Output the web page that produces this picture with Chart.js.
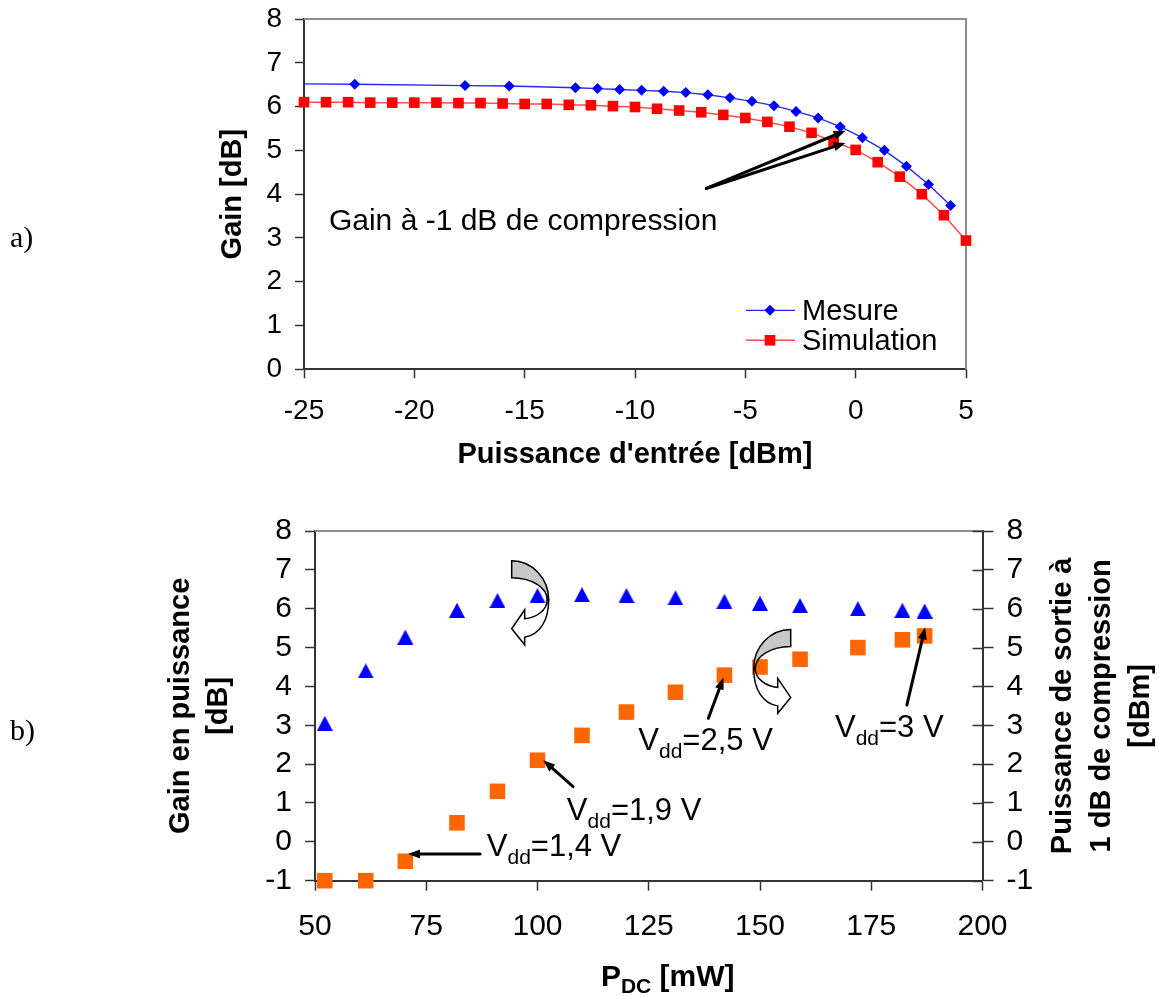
<!DOCTYPE html>
<html>
<head>
<meta charset="utf-8">
<script src="https://cdn.jsdelivr.net/npm/chart.js@4.4.1/dist/chart.umd.min.js"></script>
<style>
  html, body { margin: 0; padding: 0; background: #fff; }
  #wrap { position: relative; width: 1159px; height: 996px; overflow: hidden; }
  #gainChart { position: absolute; left: 0; top: 0; }
  #pdcChart { position: absolute; left: 0; top: 480px; }
</style>
</head>
<body>
<div id="wrap">
  <canvas id="gainChart" width="1159" height="480"></canvas>
  <canvas id="pdcChart" width="1159" height="516"></canvas>
</div>
<script>
const FONT = "'Liberation Sans', Arial, sans-serif";
const SERIF = "'Liberation Serif', 'Times New Roman', serif";
const AXIS = "#333333";
const FRAME = "#8c8c8c";

// a) gain vs input power
const mesureX = [-25, -22.7, -17.7, -15.7, -12.7, -11.7, -10.7, -9.7, -8.7, -7.7, -6.7,
                 -5.7, -4.7, -3.7, -2.7, -1.7, -0.7, 0.3, 1.3, 2.3, 3.3, 4.3];
const mesureGain = [6.52, 6.51, 6.48, 6.47, 6.43, 6.41, 6.39, 6.37, 6.35, 6.32, 6.27,
                    6.20, 6.12, 6.02, 5.89, 5.74, 5.54, 5.29, 5.00, 4.64, 4.22, 3.74];
const simX = [-25, -24, -23, -22, -21, -20, -19, -18, -17, -16, -15, -14, -13, -12, -11, -10,
              -9, -8, -7, -6, -5, -4, -3, -2, -1, 0, 1, 2, 3, 4, 5];
const simGain = [6.10, 6.10, 6.10, 6.09, 6.09, 6.09, 6.09, 6.08, 6.08, 6.07, 6.06, 6.06, 6.04, 6.03, 6.01, 5.99,
                 5.95, 5.91, 5.87, 5.81, 5.74, 5.65, 5.54, 5.40, 5.20, 5.01, 4.73, 4.40, 4.00, 3.52, 2.94];
const inputTicks = [-25, -20, -15, -10, -5, 0, 5];
const gainTicks = [0, 1, 2, 3, 4, 5, 6, 7, 8];

// b) gain and output power at 1 dB compression vs P_DC
const pdc = [52.2, 61.4, 70.3, 81.9, 91.0, 100.0, 110.0, 120.0, 131.0, 142.0, 150.0, 159.0, 172.0, 182.0, 187.0];
const gainPuissance = [3.05, 4.40, 5.27, 5.96, 6.21, 6.34, 6.36, 6.34, 6.28, 6.19, 6.14, 6.08, 6.00, 5.96, 5.94];
const p1dB = [-1.0, -1.0, -0.5, 0.49, 1.30, 2.10, 2.74, 3.34, 3.85, 4.29, 4.50, 4.70, 5.00, 5.20, 5.30];
const pdcTicks = [50, 75, 100, 125, 150, 175, 200];
const dbTicks = [-1, 0, 1, 2, 3, 4, 5, 6, 7, 8];

// annotations (data coordinates)
const vddLabels = ["1,4", "1,9", "2,5", "3"];
const vddTextAt = [[88.6, -0.37], [106.6, 0.56], [122.65, 2.375], [166.85, 2.69]];
const vddArrowFrom = [[87.1, -0.31], [108.0, 1.42], [138.4, 3.18], [183.0, 3.52]];
const vddArrowTo = [[70.9, -0.31], [101.3, 2.10], [141.8, 4.23], [187.1, 5.52]];
const turnArrows = [[94.2, 7.234, 1], [156.9, 5.468, -1]];
const compressionText = [-23.87, 3.18];
const compressionFrom = [-6.77, 4.13];
const compressionTo = [[-0.46, 5.45], [-0.46, 5.17]];

function useTicks(list) {
  return s => { s.ticks = list.map(v => ({ value: v })); };
}

// fixed box size, no label overflow padding so the plot area lands where we want
function fixBox(size) {
  return s => {
    if (s.isHorizontal()) s.height = size; else s.width = size;
    s.paddingTop = 0;
    s.paddingBottom = 0;
    s.paddingLeft = 0;
    s.paddingRight = 0;
  };
}

function axis(o) {
  return {
    type: "linear",
    position: o.position,
    min: o.min,
    max: o.max,
    afterBuildTicks: useTicks(o.ticks),
    afterFit: fixBox(o.size),
    grid: { drawOnChartArea: false, drawTicks: true, tickLength: o.tickLength, tickColor: AXIS, tickWidth: 1.5 },
    border: { display: true, color: AXIS, width: 2 },
    ticks: {
      color: "#000",
      font: { family: FONT, size: o.fontSize },
      padding: o.padding,
      autoSkip: false,
      maxRotation: 0,
      callback: v => String(v)
    }
  };
}

function arrow(ctx, x1, y1, x2, y2) {
  const a = Math.atan2(y2 - y1, x2 - x1);
  const len = 12, half = 4.5;
  const bx = x2 - len * Math.cos(a), by = y2 - len * Math.sin(a);
  ctx.strokeStyle = "#000";
  ctx.fillStyle = "#000";
  ctx.lineWidth = 3;
  ctx.lineCap = "round";
  ctx.beginPath();
  ctx.moveTo(x1, y1);
  ctx.lineTo(bx, by);
  ctx.stroke();
  ctx.beginPath();
  ctx.moveTo(x2, y2);
  ctx.lineTo(bx + half * Math.sin(a), by - half * Math.cos(a));
  ctx.lineTo(bx - half * Math.sin(a), by + half * Math.cos(a));
  ctx.closePath();
  ctx.fill();
}

function textUp(ctx, str, x, y, font) {
  ctx.save();
  ctx.translate(x, y);
  ctx.rotate(-Math.PI / 2);
  ctx.font = font;
  ctx.fillStyle = "#000";
  ctx.textAlign = "center";
  ctx.textBaseline = "alphabetic";
  ctx.fillText(str, 0, 0);
  ctx.restore();
}

function plainText(ctx, str, x, y, font, align) {
  ctx.font = font;
  ctx.fillStyle = "#000";
  ctx.textAlign = align || "left";
  ctx.textBaseline = "alphabetic";
  ctx.fillText(str, x, y);
}

// "V_dd=1,4 V" with subscript
function vddText(ctx, x, y, value) {
  ctx.fillStyle = "#000";
  ctx.textAlign = "left";
  ctx.textBaseline = "alphabetic";
  ctx.font = "31px " + FONT;
  ctx.fillText("V", x, y);
  let w = ctx.measureText("V").width;
  ctx.font = "21px " + FONT;
  ctx.fillText("dd", x + w, y + 8);
  w += ctx.measureText("dd").width;
  ctx.font = "31px " + FONT;
  ctx.fillText("=" + value + " V", x + w, y);
}

// office-like curved arrow, tail at (x0, y0), bulging to dir
function curvedArrow(ctx, x0, y0, dir) {
  const P = (u, v) => [x0 + dir * u, y0 + v];
  const m = (u, v) => ctx.moveTo(...P(u, v));
  const l = (u, v) => ctx.lineTo(...P(u, v));
  const c = (a, b, cc, d, e, f) => ctx.bezierCurveTo(...P(a, b), ...P(cc, d), ...P(e, f));
  ctx.lineWidth = 1.5;
  ctx.strokeStyle = "#000";
  ctx.lineJoin = "miter";
  // back (grey) band
  ctx.beginPath();
  m(0, 0);
  c(20.4, 0, 37, 17.5, 37, 39);
  l(35.5, 39);
  c(35.5, 26.9, 19.6, 17, 0, 17);
  ctx.closePath();
  ctx.fillStyle = "#c8c8c8";
  ctx.fill();
  ctx.stroke();
  // front (white) band with head
  ctx.beginPath();
  m(37, 39);
  c(37, 60, 28, 74, 13, 76.5);
  l(13, 84);
  l(0, 68);
  l(13, 49);
  l(13, 58);
  c(24, 57, 35.5, 50, 35.5, 39);
  ctx.closePath();
  ctx.fillStyle = "#fff";
  ctx.fill();
  ctx.stroke();
}

function triangleMarker(w, h, color) {
  const cv = document.createElement("canvas");
  cv.width = w;
  cv.height = h;
  const g = cv.getContext("2d");
  g.fillStyle = color;
  g.beginPath();
  g.moveTo(w / 2, 0);
  g.lineTo(w, h);
  g.lineTo(0, h);
  g.closePath();
  g.fill();
  return cv;
}

const gainDecor = {
  id: "gainDecor",
  beforeDatasetsDraw(chart) {
    const { ctx, chartArea: a } = chart;
    ctx.save();
    ctx.strokeStyle = FRAME;
    ctx.lineWidth = 2;
    ctx.beginPath();
    ctx.moveTo(a.left, a.top);
    ctx.lineTo(a.right, a.top);
    ctx.lineTo(a.right, a.bottom);
    ctx.stroke();
    ctx.restore();
  },
  afterDraw(chart) {
    const { ctx, chartArea: a, scales: { x, y } } = chart;
    ctx.save();
    // legend
    const rows = [a.bottom - 59, a.bottom - 29];
    chart.data.datasets.forEach((ds, i) => {
      const yy = rows[i];
      ctx.strokeStyle = ds.borderColor;
      ctx.lineWidth = ds.borderWidth;
      ctx.beginPath();
      ctx.moveTo(a.right - 220, yy);
      ctx.lineTo(a.right - 171, yy);
      ctx.stroke();
      ctx.fillStyle = ds.pointBackgroundColor;
      Chart.helpers.drawPoint(ctx, { pointStyle: ds.pointStyle, radius: i === 0 ? 5.5 : 7.5, rotation: 0, borderWidth: 0 }, a.right - 196, yy);
      plainText(ctx, ds.label, a.right - 164, yy + 10, "29px " + FONT);
    });
    // annotation
    plainText(ctx, "Gain à -1 dB de compression", x.getPixelForValue(compressionText[0]), y.getPixelForValue(compressionText[1]), "30px " + FONT);
    compressionTo.forEach(t => arrow(ctx, x.getPixelForValue(compressionFrom[0]), y.getPixelForValue(compressionFrom[1]),
      x.getPixelForValue(t[0]), y.getPixelForValue(t[1])));
    // axis titles
    textUp(ctx, "Gain [dB]", a.left - 63.3, (a.top + a.bottom) / 2, "bold 29px " + FONT);
    plainText(ctx, "Puissance d'entrée [dBm]", (a.left + a.right) / 2, a.bottom + 94, "bold 29px " + FONT, "center");
    plainText(ctx, "a)", 10, a.top + 228, "30px " + SERIF);
    ctx.restore();
  }
};

const pdcDecor = {
  id: "pdcDecor",
  beforeDatasetsDraw(chart) {
    const { ctx, chartArea: a, scales: { y1 } } = chart;
    ctx.save();
    ctx.strokeStyle = FRAME;
    ctx.lineWidth = 2;
    ctx.beginPath();
    ctx.moveTo(a.left, a.top);
    ctx.lineTo(a.right, a.top);
    ctx.stroke();
    // right axis ticks cross the axis line
    ctx.strokeStyle = AXIS;
    ctx.lineWidth = 1.5;
    ctx.beginPath();
    y1.ticks.forEach(t => {
      const py = Math.round(y1.getPixelForValue(t.value)) + 0.5;
      ctx.moveTo(a.right - 10, py);
      ctx.lineTo(a.right, py);
    });
    ctx.stroke();
    ctx.restore();
  },
  afterDraw(chart) {
    const { ctx, chartArea: a, scales: { x, y } } = chart;
    ctx.save();
    vddLabels.forEach((v, i) => {
      arrow(ctx, x.getPixelForValue(vddArrowFrom[i][0]), y.getPixelForValue(vddArrowFrom[i][1]),
        x.getPixelForValue(vddArrowTo[i][0]), y.getPixelForValue(vddArrowTo[i][1]));
      vddText(ctx, x.getPixelForValue(vddTextAt[i][0]), y.getPixelForValue(vddTextAt[i][1]), v);
    });
    turnArrows.forEach(t => curvedArrow(ctx, x.getPixelForValue(t[0]), y.getPixelForValue(t[1]), t[2]));
    // axis titles
    const cy = (a.top + a.bottom) / 2;
    const bold = "bold 29px " + FONT;
    textUp(ctx, "Gain en puissance", a.left - 126, cy, bold);
    textUp(ctx, "[dB]", a.left - 88, cy, bold);
    textUp(ctx, "Puissance de sortie à", a.right + 88.5, cy, bold);
    textUp(ctx, "1 dB de compression", a.right + 127.5, cy, bold);
    textUp(ctx, "[dBm]", a.right + 166.5, cy, bold);
    // P_DC [mW]
    ctx.font = "bold 30px " + FONT;
    const wP = ctx.measureText("P").width, wT = ctx.measureText(" [mW]").width;
    ctx.font = "bold 21px " + FONT;
    const wS = ctx.measureText("DC").width;
    const bx = (a.left + a.right) / 2 + 19 - (wP + wS + wT) / 2, by = a.bottom + 105.3;
    plainText(ctx, "P", bx, by, "bold 30px " + FONT);
    plainText(ctx, "DC", bx + wP, by + 7, "bold 21px " + FONT);
    plainText(ctx, " [mW]", bx + wP + wS, by, "bold 30px " + FONT);
    plainText(ctx, "b)", 10, a.top + 209, "30px " + SERIF);
    ctx.restore();
  }
};

new Chart(document.getElementById("gainChart"), {
  type: "line",
  data: {
    datasets: [
      {
        label: "Mesure",
        data: mesureX.map((v, i) => ({ x: v, y: mesureGain[i] })),
        borderColor: "rgba(0,0,255,0.85)",
        borderWidth: 1.3,
        pointStyle: "rectRot",
        pointRadius: c => (c.dataIndex === 0 ? 0 : 5.5),
        pointBackgroundColor: "#0000ff",
        pointBorderWidth: 0,
        tension: 0,
        clip: false
      },
      {
        label: "Simulation",
        data: simX.map((v, i) => ({ x: v, y: simGain[i] })),
        borderColor: "rgba(255,0,0,0.7)",
        borderWidth: 1.5,
        pointStyle: "rect",
        pointRadius: 7.5,
        pointBackgroundColor: "#ff0000",
        pointBorderWidth: 0,
        tension: 0,
        clip: false
      }
    ]
  },
  options: {
    responsive: false,
    animation: false,
    devicePixelRatio: 1,
    layout: { padding: { left: 200, right: 193, top: 19, bottom: 0 } },
    plugins: { legend: { display: false }, tooltip: { enabled: false } },
    scales: {
      x: axis({ position: "bottom", min: -25, max: 5, ticks: inputTicks, tickLength: 9, fontSize: 28, padding: 16, size: 110.7 }),
      y: axis({ position: "left", min: 0, max: 8, ticks: gainTicks, tickLength: 9, fontSize: 28, padding: 13, size: 104 })
    }
  },
  plugins: [gainDecor]
});

new Chart(document.getElementById("pdcChart"), {
  type: "scatter",
  data: {
    datasets: [
      {
        label: "Gain en puissance",
        data: pdc.map((v, i) => ({ x: v, y: gainPuissance[i] })),
        yAxisID: "y",
        pointStyle: triangleMarker(16, 15, "#0000ff"),
        pointRadius: 8,
        clip: false
      },
      {
        label: "Puissance de sortie à 1 dB de compression",
        data: pdc.map((v, i) => ({ x: v, y: p1dB[i] })),
        yAxisID: "y1",
        pointStyle: "rect",
        pointRadius: 11,
        pointBackgroundColor: "#ff6600",
        pointBorderWidth: 0,
        clip: false
      }
    ]
  },
  options: {
    responsive: false,
    animation: false,
    devicePixelRatio: 1,
    layout: { padding: { left: 158, right: 0, top: 51, bottom: 0 } },
    plugins: { legend: { display: false }, tooltip: { enabled: false } },
    scales: {
      x: axis({ position: "bottom", min: 50, max: 200, ticks: pdcTicks, tickLength: 10, fontSize: 30, padding: 17.6, size: 115.3 }),
      y: axis({ position: "left", min: -1, max: 8, ticks: dbTicks, tickLength: 10, fontSize: 30, padding: 13, size: 157 }),
      y1: axis({ position: "right", min: -1, max: 8, ticks: dbTicks, tickLength: 11, fontSize: 30, padding: 13, size: 176.5 })
    }
  },
  plugins: [pdcDecor]
});
</script>
</body>
</html>
